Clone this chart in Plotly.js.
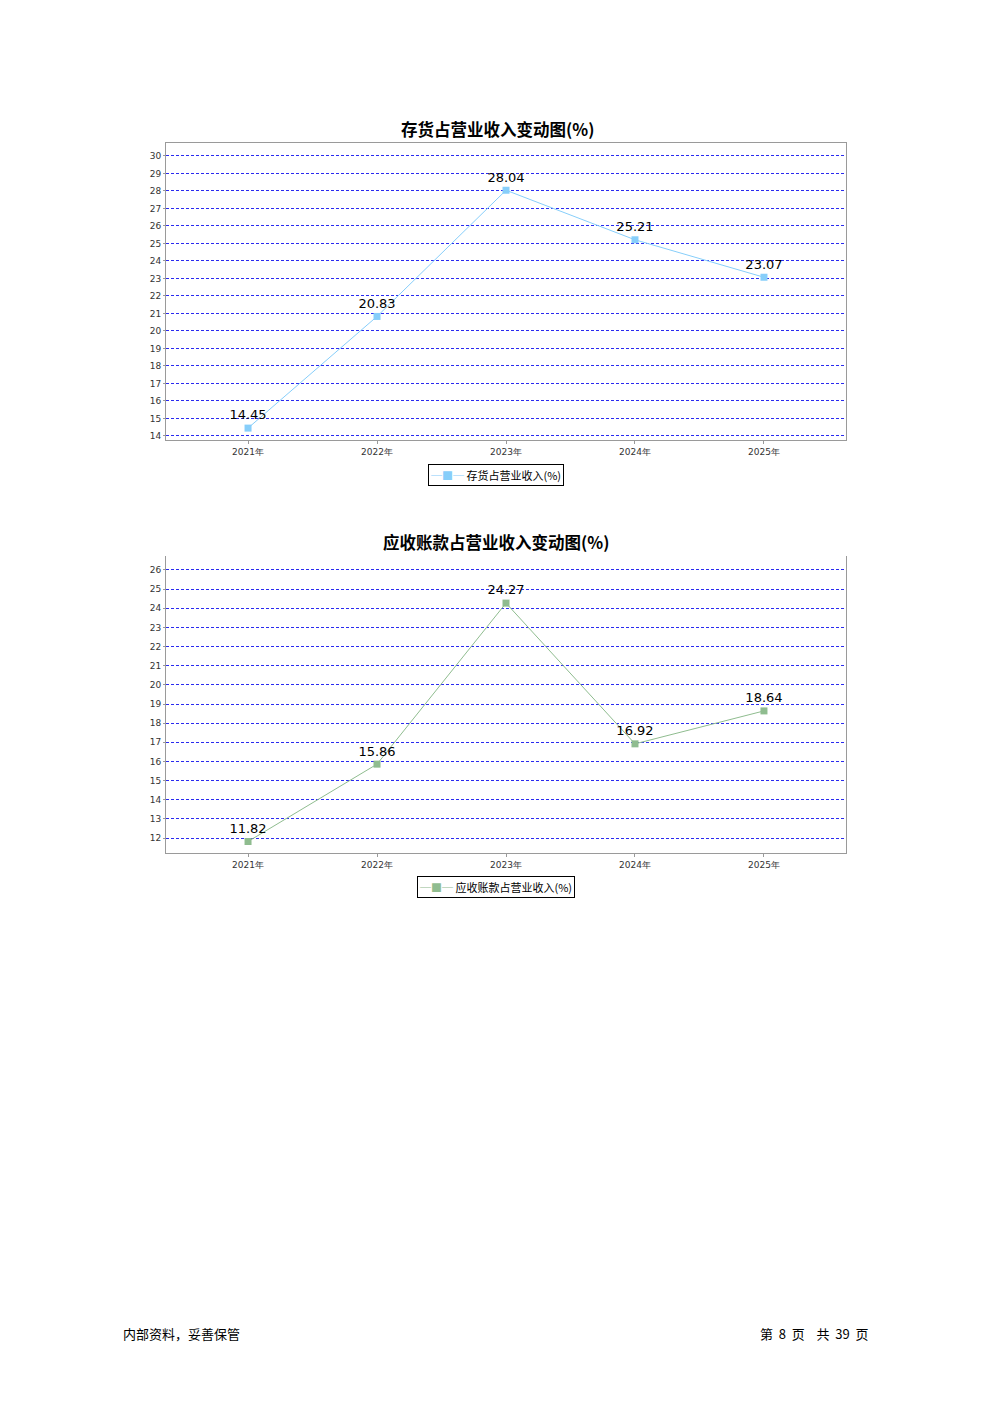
<!DOCTYPE html>
<html>
<head>
<meta charset="utf-8">
<script src="https://cdn.plot.ly/plotly-3.0.1.min.js"></script>
<style>
  html, body { margin: 0; padding: 0; background: #fff; }
  #page { width: 992px; height: 1403px; }
</style>
</head>
<body>
<div id="page"></div>
<script>
// categories and series
const years = ["2021年", "2022年", "2023年", "2024年", "2025年"];
const inventoryPct = [14.45, 20.83, 28.04, 25.21, 23.07];
const receivablePct = [11.82, 15.86, 24.27, 16.92, 18.64];

const chartTitles = ["存货占营业收入变动图(%)", "应收账款占营业收入变动图(%)"];
const seriesNames = ["存货占营业收入(%)", "应收账款占营业收入(%)"];
const seriesColors = ["#87cefa", "#8fbc8f"];
const footerLeft = "内部资料，妥善保管";
const footerRight = "第&nbsp;&nbsp;8&nbsp;&nbsp;页&nbsp;&nbsp;&nbsp;&nbsp;共&nbsp;&nbsp;39&nbsp;&nbsp;页";

const W = 992, H = 1403;
// helpers: page pixels -> paper coords
function px(x) { return x / W; }
function py(y) { return 1 - y / H; }

const CJK = '"Noto Sans CJK SC", "DejaVu Sans", sans-serif';
const TICKFONT = { family: '"DejaVu Sans", sans-serif', size: 9, color: '#333' };

function lineTrace(y, name, color, xa, ya) {
  return {
    x: years, y: y, name: name, xaxis: xa, yaxis: ya,
    type: 'scatter', mode: 'lines+markers+text',
    line: { color: color, width: 1 },
    marker: { color: color, size: 7, symbol: 'square' },
    text: y.map(v => v.toFixed(2)),
    textposition: 'top center',
    textfont: { family: '"DejaVu Sans", sans-serif', size: 13, color: '#000' },
    cliponaxis: false
  };
}

function xAxis(anchor, mirror) {
  return {
    anchor: anchor, domain: [px(166), px(846)],
    type: 'category', range: [-0.636, 4.636],
    showgrid: false, zeroline: false,
    showline: true, linecolor: '#9a9a9a', linewidth: 1, mirror: mirror,
    ticks: 'outside', ticklen: 3, tickcolor: '#9a9a9a',
    tickfont: TICKFONT, fixedrange: true
  };
}

function yAxis(anchor, top, bottom, range) {
  return {
    anchor: anchor, domain: [py(bottom), py(top)],
    range: range, dtick: 1, tick0: 0,
    showgrid: true, gridcolor: '#2a2af0', gridwidth: 1, griddash: '3px,2px',
    zeroline: false,
    showline: true, linecolor: '#9a9a9a', linewidth: 1, mirror: true,
    ticks: 'outside', ticklen: 2, tickcolor: '#9a9a9a',
    tickfont: TICKFONT, fixedrange: true
  };
}

// compact boxed legend, like the original report's
function legendBox(name, color, y) {
  return {
    text: '<span style="color:' + color + '">─■─</span> ' + name,
    x: px(496), y: py(y), xref: 'paper', yref: 'paper',
    xanchor: 'center', yanchor: 'middle', showarrow: false,
    bordercolor: '#000', borderwidth: 1, borderpad: 2, bgcolor: '#fff',
    font: { family: CJK, size: 11, color: '#000' }
  };
}

function label(text, x, y, size, xanchor) {
  return {
    text: text, x: px(x), y: py(y), xref: 'paper', yref: 'paper',
    xanchor: xanchor, yanchor: 'middle', showarrow: false,
    font: { family: CJK, size: size, color: '#000' }
  };
}

const data = [
  lineTrace(inventoryPct, seriesNames[0], seriesColors[0], 'x', 'y'),
  lineTrace(receivablePct, seriesNames[1], seriesColors[1], 'x2', 'y2')
];

const layout = {
  width: W, height: H,
  margin: { l: 0, r: 0, t: 0, b: 0 },
  paper_bgcolor: '#fff', plot_bgcolor: '#fff',
  showlegend: false,
  xaxis: xAxis('y', true),
  yaxis: yAxis('x', 143, 440, [13.77, 30.74]),
  xaxis2: xAxis('y2', false),
  yaxis2: yAxis('x2', 556, 853, [11.22, 26.73]),
  annotations: [
    label('<b>' + chartTitles[0] + '</b>', 497, 129, 16.5, 'center'),
    label('<b>' + chartTitles[1] + '</b>', 496, 542, 16.5, 'center'),
    legendBox(seriesNames[0], seriesColors[0], 474.5),
    legendBox(seriesNames[1], seriesColors[1], 887),
    label(footerLeft, 121, 1333, 13, 'left'),
    label(footerRight, 871, 1333, 13, 'right')
  ]
};

Plotly.newPlot('page', data, layout, { staticPlot: true, displayModeBar: false });
</script>
</body>
</html>
